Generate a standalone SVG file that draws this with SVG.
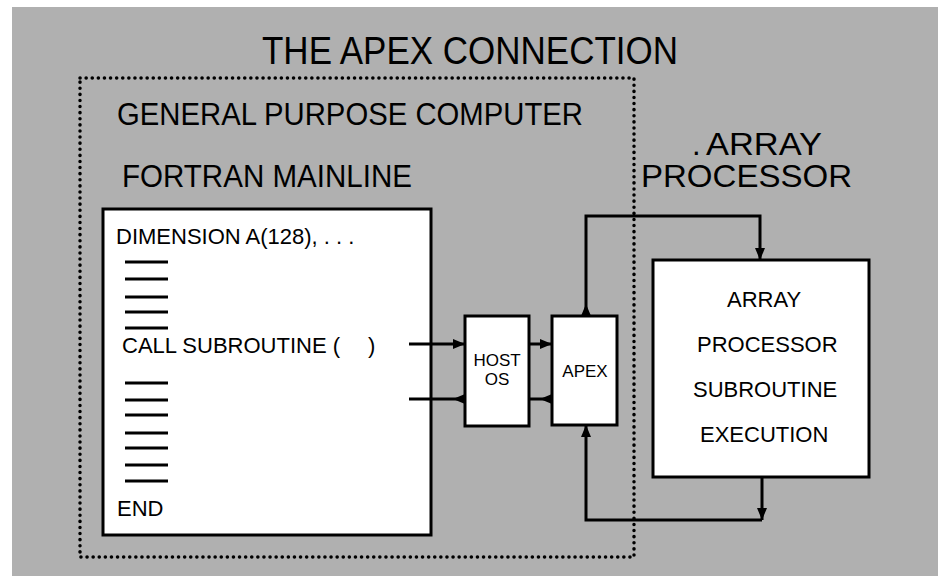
<svg xmlns="http://www.w3.org/2000/svg" width="938" height="576" viewBox="0 0 938 576">
<defs>
<style>
text{font-family:"Liberation Sans",Arial,sans-serif;fill:#000;}
.box{fill:#fff;stroke:#000;stroke-width:3;}
.wire{fill:none;stroke:#000;stroke-width:3;}
.dash{stroke:#000;stroke-width:3;}
.head{font-size:31px;}
.body{font-size:22px;}
.small{font-size:17px;}
</style>
<marker id="tip" viewBox="0 0 12 10" refX="12" refY="5" markerWidth="12" markerHeight="10" markerUnits="userSpaceOnUse" orient="auto">
<path d="M0,0 L12,5 L0,10 z" fill="#000"/>
</marker>
<marker id="base" viewBox="0 0 12 10" refX="0" refY="5" markerWidth="12" markerHeight="10" markerUnits="userSpaceOnUse" orient="auto">
<path d="M0,0 L12,5 L0,10 z" fill="#000"/>
</marker>
</defs>
<rect x="0" y="0" width="938" height="576" fill="#fff"/>
<rect x="12" y="7" width="926" height="569" fill="#b0b0b0"/>

<g id="title">
<text x="262" y="64" font-size="38" textLength="416" lengthAdjust="spacingAndGlyphs">THE APEX CONNECTION</text>
</g>

<g id="general-purpose-computer">
<rect x="80" y="78" width="554" height="479" fill="none" stroke="#000" stroke-width="3.5" stroke-linecap="round" stroke-dasharray="0.1 6"/>
<text class="head" x="117" y="125" textLength="466" lengthAdjust="spacingAndGlyphs">GENERAL PURPOSE COMPUTER</text>
<text class="head" x="122" y="187" textLength="290" lengthAdjust="spacingAndGlyphs">FORTRAN MAINLINE</text>
</g>

<g id="array-processor-label">
<text class="head" x="692" y="155">.</text>
<text class="head" x="706" y="155" textLength="116" lengthAdjust="spacingAndGlyphs">ARRAY</text>
<text class="head" x="641" y="187" textLength="211" lengthAdjust="spacingAndGlyphs">PROCESSOR</text>
</g>

<g id="fortran-mainline">
<rect class="box" x="103" y="209" width="328" height="326"/>
<text class="body" x="116" y="244">DIMENSION A(128), . . .</text>
<g class="dash">
<line x1="125" y1="262" x2="168" y2="262"/>
<line x1="125" y1="279" x2="168" y2="279"/>
<line x1="125" y1="297" x2="168" y2="297"/>
<line x1="125" y1="312" x2="168" y2="312"/>
<line x1="125" y1="328" x2="168" y2="328"/>
<line x1="125" y1="383" x2="168" y2="383"/>
<line x1="125" y1="400" x2="168" y2="400"/>
<line x1="125" y1="415" x2="168" y2="415"/>
<line x1="125" y1="433" x2="168" y2="433"/>
<line x1="125" y1="448" x2="168" y2="448"/>
<line x1="125" y1="465" x2="168" y2="465"/>
<line x1="125" y1="481" x2="168" y2="481"/>
</g>
<text class="body" x="122" y="353">CALL SUBROUTINE (<tspan x="368">)</tspan></text>
<text class="body" x="117" y="516">END</text>
</g>

<g id="host-os">
<rect class="box" x="465" y="316" width="64" height="110"/>
<text class="small" x="497" y="366" text-anchor="middle">HOST</text>
<text class="small" x="497" y="385" text-anchor="middle">OS</text>
</g>

<g id="apex">
<rect class="box" x="552" y="316" width="65" height="109"/>
<text class="small" x="585" y="377" text-anchor="middle">APEX</text>
</g>

<g id="array-processor-subroutine">
<rect class="box" x="653" y="260" width="216" height="217"/>
<text class="body" x="727" y="307">ARRAY</text>
<text class="body" x="697" y="352">PROCESSOR</text>
<text class="body" x="693" y="397">SUBROUTINE</text>
<text class="body" x="700" y="442">EXECUTION</text>
</g>

<g id="connectors">
<path class="wire" d="M409,344 H465" marker-end="url(#tip)"/>
<path class="wire" d="M465,399 H409" marker-start="url(#base)"/>
<path class="wire" d="M529,344 H552" marker-end="url(#tip)"/>
<path class="wire" d="M552,399 H529" marker-start="url(#base)"/>
<path class="wire" d="M586,316 V216 H760 V260" marker-start="url(#base)" marker-end="url(#tip)"/>
<path class="wire" d="M762,477 V520" marker-end="url(#tip)"/>
<path class="wire" d="M762,520 H586 V425" marker-end="url(#tip)"/>
</g>
</svg>
